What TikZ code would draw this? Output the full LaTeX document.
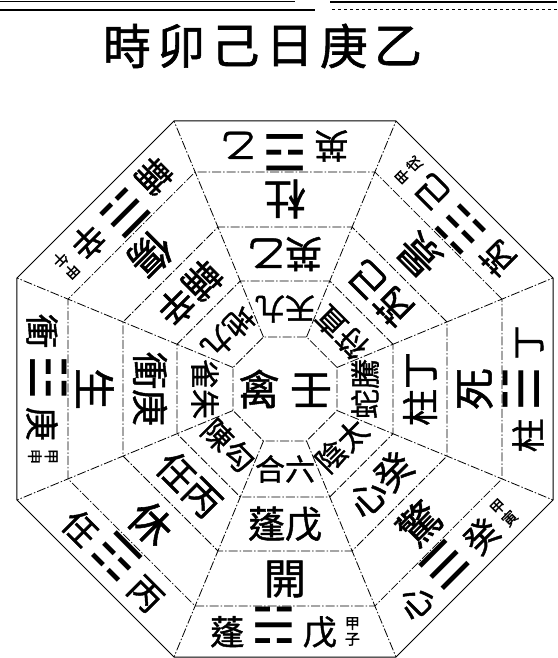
\documentclass[tikz,border=0pt]{standalone}
\usepackage{fontspec}
\newfontfamily\cjk{Noto Sans CJK TC}[FakeBold=1.2]
\newfontfamily\symf{DejaVu Sans}
\usetikzlibrary{calc}
\tikzset{
  ring/.style={line width=0.8pt, dash pattern=on 9pt off 2pt on 1.5pt off 2pt},
  rim/.style={line width=1pt},
  band/.style={font=\cjk\fontsize{34}{34}\selectfont, inner sep=0pt},
  gate/.style={font=\cjk\fontsize{42}{42}\selectfont, inner sep=0pt},
  plate/.style={font=\cjk\fontsize{37}{37}\selectfont, inner sep=0pt},
  deity/.style={font=\cjk\fontsize{30}{30}\selectfont, inner sep=0pt},
}
% trigram and hidden stems
\newcommand\tri[1]{\hspace{7pt}\raisebox{1pt}[26pt][0pt]{\symf\fontsize{50}{50}\selectfont#1}\hspace{7pt}}
\newcommand\hid[2]{\hspace{8pt}{\fontsize{15}{16}\selectfont\shortstack{#1\\#2}}}

\begin{document}
\begin{tikzpicture}[x=1pt, y=1pt]
  \useasboundingbox (0,0) rectangle (557,658);
  \fill[white] (0,0) rectangle (557,658);
  % page rules
  \draw[line width=0.7pt] (0,657) -- (295,657);
  \draw[line width=1.2pt] (330,656) -- (557,656);
  \draw[line width=1.4pt] (0,648) -- (315,648);
  \draw[line width=1pt, dashed] (332,648) -- (557,648);
  % title
  \foreach \ch [count=\i] in {時,卯,己,日,庚,乙}
    \node[font=\cjk\fontsize{48}{48}\selectfont, inner sep=0pt] (t\i) at (127+54.2*\i-54.2, 612) {\ch};
  \coordinate (C) at (285,269);
  % octagons
  \draw[rim] ($(C)+(22.5:290.1)$) \foreach \a in {67.5,112.5,...,337.5} {-- ($(C)+(\a:290.1)$)} -- cycle;
  \foreach \r in {56.3,116.9,175.3,234.9}
    \draw[ring] ($(C)+(22.5:\r)$) \foreach \a in {67.5,112.5,...,337.5} {-- ($(C)+(\a:\r)$)} -- cycle;
  % spokes
  \foreach \a [count=\k] in {22.5,67.5,...,337.5} {
    \coordinate (in\k) at ($(C)+(\a:56.3)$);
    \coordinate (out\k) at ($(C)+(\a:290.1)$);
    \draw[ring] (in\k) -- (out\k);
  }
  % centre
  \node[font=\cjk\fontsize{42}{42}\selectfont, inner sep=0pt] (mid) at (C) {禽\hspace{10pt}壬};
  % palaces
  \foreach \ang/\outer/\door/\star/\god [count=\k] in {
      90/{英\tri{☲}乙}/杜/英乙/天九,
      45/{芮\tri{☷}己\hid{甲}{戌}}/景/芮己/符直,
      0/{柱\tri{☱}丁}/死/柱丁/蛇騰,
      -45/{心\tri{☰}癸\hid{甲}{寅}}/驚/心癸/陰太,
      -90/{蓬\tri{☵}戊\hid{甲}{子}}/開/蓬戊/合六,
      -135/{任\tri{☶}丙}/休/任丙/陳勾,
      180/{衝\tri{☳}庚\hid{甲}{申}}/生/衝庚/雀朱,
      135/{輔\tri{☴}辛\hid{甲}{午}}/傷/輔辛/地九} {
    \node[band, rotate=\ang+90] (band\k) at ($(C)+(\ang:243)$) {\outer};
    \node[gate, rotate=\ang+90] (door\k) at ($(C)+(\ang:190)$) {\door};
    \node[plate, rotate=\ang+90] (plate\k) at ($(C)+(\ang:135)$) {\star};
    \node[deity, rotate=\ang+90] (god\k) at ($(C)+(\ang:80)$) {\god};
  }
\end{tikzpicture}
\end{document}
